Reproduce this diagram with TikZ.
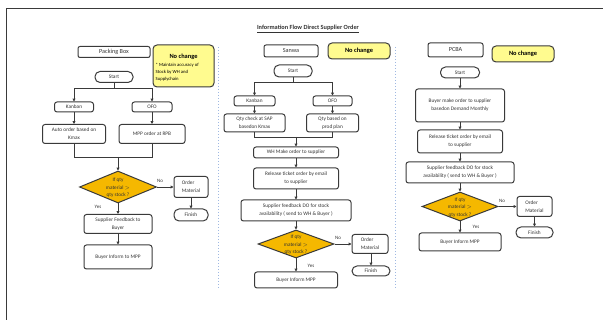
\documentclass[tikz,border=0pt]{standalone}
\usepackage{fontspec}
\setmainfont{Carlito}
\usetikzlibrary{shapes.geometric,arrows.meta}
\definecolor{lineg}{HTML}{3A3A3A}
\definecolor{txtg}{HTML}{333333}
\definecolor{gold}{HTML}{F5B800}
\definecolor{notey}{HTML}{FFFB8F}
\definecolor{divb}{HTML}{9FB8E2}
\tikzset{
  x=1pt, y=-1pt,
  box/.style={draw=lineg, line width=1pt, rounded corners=2.5pt, inner sep=0pt,
    text=txtg, font=\fontsize{5.3}{8}\selectfont, align=center},
  term/.style={box, rounded corners=5pt},
  hdr/.style={box, rounded corners=2pt, font=\fontsize{6.2}{8}\selectfont},
  note/.style={draw=lineg, line width=1pt, rounded corners=4pt, fill=notey, inner sep=0pt,
    font=\fontsize{6.4}{8}\selectfont\bfseries},
  dec/.style={diamond, draw=lineg, line width=1pt, fill=gold, inner sep=0pt},
  dtxt/.style={inner sep=0pt, text=txtg, font=\fontsize{5.2}{7.5}\selectfont, align=center},
  lbl/.style={inner sep=0pt, text=txtg, font=\fontsize{5}{6}\selectfont},
  conn/.style={draw=lineg, line width=0.9pt},
  arr/.style={conn, -{Triangle[length=2.8pt,width=2.8pt]}},
  divider/.style={draw=divb, line width=0.7pt, dash pattern=on 1.5pt off 1.5pt},
}
\begin{document}
\begin{tikzpicture}
\useasboundingbox (0,0) rectangle (603,320);
% frame
\coordinate (fa) at (6,320);
\coordinate (fb) at (6,8);
\coordinate (fc) at (603,8);
\draw[draw=lineg, line width=0.9pt] (fa) -- (fb) -- (fc);
% title
\node[inner sep=0pt, font=\fontsize{6.3}{8}\selectfont\bfseries, text=txtg] (title) at (308,29) {\underline{Information Flow Direct Supplier Order}};
% dividers
\coordinate (d1a) at (218,47); \coordinate (d1b) at (218,288);
\coordinate (d2a) at (395,47); \coordinate (d2b) at (395,288);
\draw[divider] (d1a) -- (d1b);
\draw[divider] (d2a) -- (d2b);

% ===== Column 1: Packing Box =====
\node[hdr, minimum width=72pt, minimum height=11pt] (hdr1) at (114,52) {Packing Box};
\node[note, minimum width=61pt, minimum height=42pt] (note1) at (183.5,66) {};
\node[inner sep=0pt, font=\fontsize{6.4}{8}\selectfont\bfseries] (note1h) at (183.5,57) {No change};
\node[inner sep=0pt, anchor=north west, align=left, font=\fontsize{4.7}{7}\selectfont] (note1b) at (155.5,62.5) {* Maintain accuracy of\\Stock by WH and\\Supplychain};
\node[term, minimum width=38pt, minimum height=11pt] (start1) at (114,77) {Start};
\coordinate (b1) at (114,88);
\node[box, minimum width=39pt, minimum height=10pt] (kan1) at (74,107) {Kanban};
\node[box, minimum width=40pt, minimum height=10pt] (ofo1) at (152,107) {OFO};
\node[box, minimum width=63pt, minimum height=19pt] (auto1) at (74,134) {Auto order based on\\Kmax};
\node[box, minimum width=66pt, minimum height=19pt] (mpp1) at (152,134) {MPP order at RPB};
\coordinate (m1) at (118,157);
\node[dec, minimum width=77pt, minimum height=32pt] (dia1) at (118,187) {};
\node[dtxt] (dia1t) at (118,188) {If qty\\material $>$\\qty stock ?};
\node[box, minimum width=34pt, minimum height=21pt, align=left] (ord1) at (191,187) {Order\\Material};
\node[term, minimum width=34pt, minimum height=12pt] (fin1) at (191,215) {Finish};
\node[box, minimum width=68pt, minimum height=19pt] (sup1) at (118,224) {Supplier Feedback to\\Buyer};
\node[box, minimum width=68pt, minimum height=24pt] (buy1) at (118,257) {Buyer Inform to MPP};
\node[lbl] (no1) at (160,181) {No};
\node[lbl] (yes1) at (98,207) {Yes};
\draw[conn] (start1) -- (b1);
\draw[arr] (b1) -| (kan1);
\draw[arr] (b1) -| (ofo1);
\draw[arr] (kan1) -- (auto1);
\draw[arr] (ofo1) -- (mpp1);
\draw[conn] (auto1) |- (m1);
\draw[conn] (mpp1) |- (m1);
\draw[arr] (m1) -- (dia1);
\draw[arr] (dia1) -- (ord1);
\draw[arr] (ord1) -- (fin1);
\draw[arr] (dia1) -- (sup1);
\draw[arr] (sup1) -- (buy1);

% ===== Column 2: Sanwa =====
\node[hdr, minimum width=54pt, minimum height=12pt] (hdr2) at (291,51) {Sanwa};
\node[note, minimum width=62pt, minimum height=16pt] (note2) at (359,51) {No change};
\node[term, minimum width=38pt, minimum height=12pt] (start2) at (293,71) {Start};
\coordinate (b2) at (293,82);
\node[box, minimum width=41pt, minimum height=10pt] (kan2) at (254.5,101) {Kanban};
\node[box, minimum width=39pt, minimum height=10pt] (ofo2) at (332.5,101) {OFO};
\node[box, minimum width=61pt, minimum height=18pt] (qa2) at (254.5,123) {Qty check at SAP\\basedon Kmax};
\node[box, minimum width=52pt, minimum height=18pt] (qb2) at (332.5,123) {Qty based on\\prod plan};
\coordinate (m2) at (296,137);
\node[box, minimum width=85pt, minimum height=11pt] (wh2) at (296,152.5) {WH Make order to supplier};
\node[box, minimum width=85pt, minimum height=21pt] (rel2) at (296,178.5) {Release ticket order by email\\to supplier};
\node[box, minimum width=110pt, minimum height=21pt] (do2) at (296,210.5) {Supplier feedback DO for stock\\availability ( send to WH \& Buyer )};
\node[dec, minimum width=76pt, minimum height=28pt] (dia2) at (296,244) {};
\node[dtxt] (dia2t) at (296,245) {If qty\\material $>$\\qty stock ?};
\node[box, minimum width=36pt, minimum height=19pt, align=left] (ord2) at (370,244) {Order\\Material};
\node[term, minimum width=38pt, minimum height=10pt] (fin2) at (371,271) {Finish};
\node[box, minimum width=83pt, minimum height=16pt] (buy2) at (296,280) {Buyer Inform MPP};
\node[lbl] (no2) at (338,238) {No};
\node[lbl] (yes2) at (311,266) {Yes};
\draw[conn] (start2) -- (b2);
\draw[arr] (b2) -| (kan2);
\draw[arr] (b2) -| (ofo2);
\draw[arr] (kan2) -- (qa2);
\draw[arr] (ofo2) -- (qb2);
\draw[conn] (qa2) |- (m2);
\draw[conn] (qb2) |- (m2);
\draw[arr] (m2) -- (wh2);
\draw[arr] (wh2) -- (rel2);
\draw[arr] (rel2) -- (do2);
\draw[arr] (do2) -- (dia2);
\draw[arr] (dia2) -- (ord2);
\draw[arr] (ord2.south -| fin2) -- (fin2);
\draw[arr] (dia2) -- (buy2);

% ===== Column 3: PCBA =====
\node[hdr, minimum width=55pt, minimum height=14pt] (hdr3) at (455.5,50) {PCBA};
\node[note, minimum width=62pt, minimum height=16pt] (note3) at (523,54) {No change};
\node[term, minimum width=39pt, minimum height=11pt] (start3) at (460,72.5) {Start};
\node[box, minimum width=89pt, minimum height=33pt] (bm3) at (460,105.5) {Buyer make order to supplier\\basedon Demand Monthly};
\node[box, minimum width=85pt, minimum height=23pt] (rel3) at (460,141.5) {Release ticket order by email\\to supplier};
\node[box, minimum width=108pt, minimum height=21pt] (do3) at (460,172.5) {Supplier feedback DO for stock\\availability ( send to WH \& Buyer )};
\node[dec, minimum width=76pt, minimum height=29pt] (dia3) at (460,206.5) {};
\node[dtxt] (dia3t) at (460,207.5) {If qty\\material $>$\\qty stock ?};
\node[box, minimum width=35pt, minimum height=20pt, align=left] (ord3) at (534.5,206.5) {Order\\Material};
\node[term, minimum width=37pt, minimum height=11pt] (fin3) at (534.5,232.5) {Finish};
\node[box, minimum width=82pt, minimum height=18pt] (buy3) at (460,242) {Buyer Inform MPP};
\node[lbl] (no3) at (502,201) {No};
\node[lbl] (yes3) at (476,227) {Yes};
\draw[arr] (start3) -- (bm3);
\draw[arr] (bm3) -- (rel3);
\draw[arr] (rel3) -- (do3);
\draw[arr] (do3) -- (dia3);
\draw[arr] (dia3) -- (ord3);
\draw[arr] (ord3) -- (fin3);
\draw[arr] (dia3) -- (buy3);
\end{tikzpicture}
\end{document}
